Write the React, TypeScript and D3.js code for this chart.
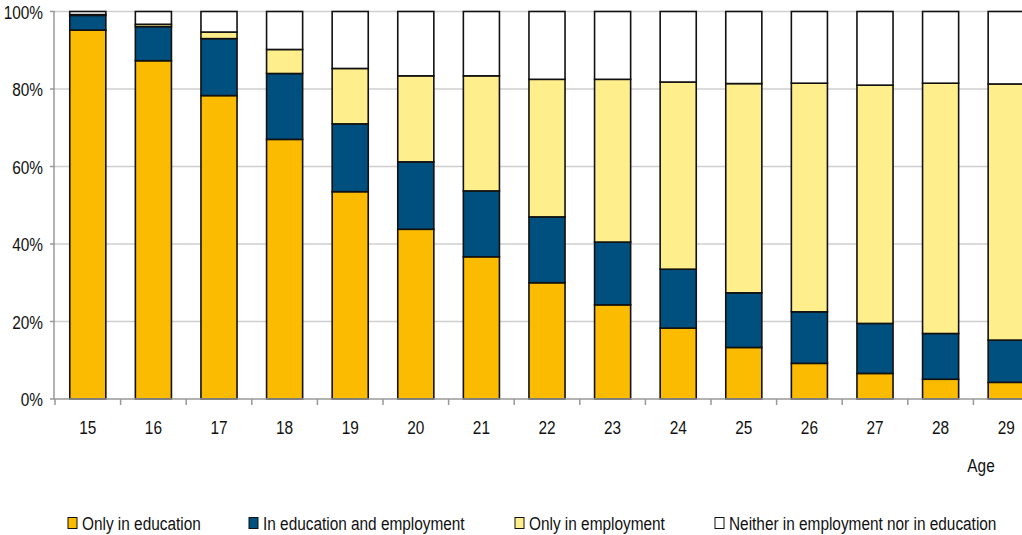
import React from "react";
import * as d3 from "d3";

const ages = ["15", "16", "17", "18", "19", "20", "21", "22", "23", "24", "25", "26", "27", "28", "29"];
const onlyEducation = [95.2, 87.3, 78.3, 67.0, 53.5, 43.8, 36.7, 30.0, 24.3, 18.3, 13.3, 9.2, 6.6, 5.1, 4.3];
const educationAndEmployment = [3.8, 8.8, 14.7, 17.0, 17.5, 17.4, 17.0, 17.0, 16.2, 15.2, 14.1, 13.3, 12.9, 11.8, 10.9];
const onlyEmployment = [0.2, 0.6, 1.7, 6.2, 14.3, 22.2, 29.7, 35.5, 42.0, 48.3, 54.0, 59.0, 61.5, 64.6, 66.1];
const neither = [0.8, 3.3, 5.3, 9.8, 14.7, 16.6, 16.6, 17.5, 17.5, 18.2, 18.6, 18.5, 19.0, 18.5, 18.7];
const yTicks = [0, 20, 40, 60, 80, 100];
const seriesNames = [
  "Only in education",
  "In education and employment",
  "Only in employment",
  "Neither in employment nor in education",
];
const colors = ["#FABB00", "#00507F", "#FFEF8C", "#FFFFFF"];

const W = 1022;
const H = 535;
const FONT = "'Liberation Sans', Arial, sans-serif";
const SX = 0.81;

function NText({ x, y, anchor = "start", children }: { x: number; y: number; anchor?: string; children: any }) {
  return (
    <text
      transform={`translate(${x},${y}) scale(${SX},1)`}
      textAnchor={anchor as any}
      fontSize={19}
      fill="#111"
    >
      {children}
    </text>
  );
}

export default function App() {
  const x0 = 55;
  const step = 65.6;
  const x = d3
    .scaleBand<string>()
    .domain(ages)
    .range([x0, x0 + step * ages.length])
    .paddingInner(0.45)
    .paddingOuter(0.225);
  const y = d3.scaleLinear().domain([0, 100]).range([399, 11.5]);

  const rows = ages.map((a, i) => ({
    age: a,
    s0: onlyEducation[i],
    s1: educationAndEmployment[i],
    s2: onlyEmployment[i],
    s3: neither[i],
  }));
  const stack = d3.stack<any>().keys(["s0", "s1", "s2", "s3"]);
  const layers = stack(rows);

  const legendX = [68, 249, 515, 715];

  return (
    <div style={{ position: "absolute", left: 0, top: 0, width: W, height: H, overflow: "hidden", background: "#fff" }}>
      <svg width={W} height={H} style={{ display: "block", fontFamily: FONT }}>
        <rect width={W} height={H} fill="#fff" />
        {yTicks.filter((t) => t > 0).map((t) => (
          <line key={"g" + t} x1={x0} x2={x0 + step * ages.length} y1={y(t)} y2={y(t)} stroke="#cfcfcf" strokeWidth={1.6} />
        ))}
        {layers.map((layer, li) =>
          layer.map((d, i) => {
            const top = y(d[1]);
            const bot = y(d[0]);
            return (
              <rect
                key={li + "-" + i}
                x={x(ages[i])}
                y={top}
                width={x.bandwidth()}
                height={Math.max(0, bot - top)}
                fill={colors[li]}
                stroke="#111"
                strokeWidth={1.6}
              />
            );
          })
        )}
        <line x1={x0 - 1} x2={x0 - 1} y1={y(100)} y2={y(0)} stroke="#999" strokeWidth={1.5} />
        {yTicks.map((t) => (
          <g key={"yt" + t}>
            <line x1={x0 - 5} x2={x0} y1={y(t)} y2={y(t)} stroke="#999" strokeWidth={1.5} />
            <NText x={43} y={y(t) + 7} anchor="end">
              {t + "%"}
            </NText>
          </g>
        ))}
        <line x1={x0 - 1} x2={x0 + step * ages.length} y1={y(0)} y2={y(0)} stroke="#999" strokeWidth={1.5} />
        {d3.range(ages.length + 1).map((i) => (
          <line key={"xt" + i} x1={x0 + i * step} x2={x0 + i * step} y1={y(0)} y2={y(0) + 6} stroke="#999" strokeWidth={1.5} />
        ))}
        {ages.map((a) => (
          <NText key={"xl" + a} x={(x(a) as number) + x.bandwidth() / 2} y={434} anchor="middle">
            {a}
          </NText>
        ))}
        <NText x={981} y={472} anchor="middle">
          Age
        </NText>
        {seriesNames.map((n, i) => (
          <g key={"lg" + i}>
            <rect x={legendX[i]} y={517.5} width={9} height={11} fill={colors[i]} stroke="#111" strokeWidth={1} />
            <NText x={legendX[i] + 14} y={530}>
              {n}
            </NText>
          </g>
        ))}
      </svg>
    </div>
  );
}
